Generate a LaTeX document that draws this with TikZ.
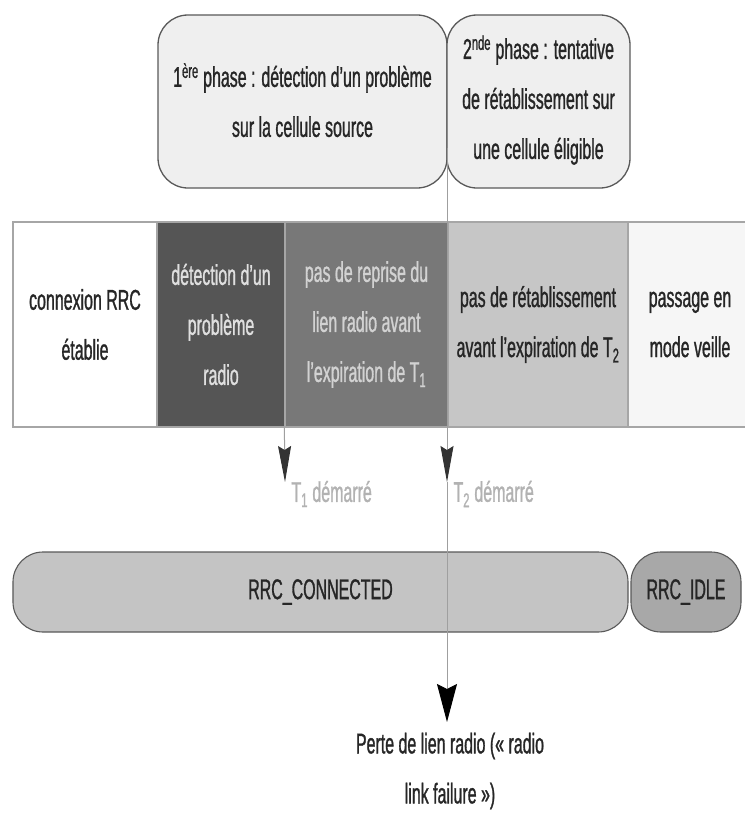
\documentclass[tikz,border=0pt]{standalone}
\usepackage{fontspec}
\setmainfont{Liberation Sans}[FakeStretch=0.56,FakeBold=1]
\usepackage{xcolor}
\usetikzlibrary{arrows.meta,positioning}
\definecolor{phasefill}{HTML}{EFEFEF}
\definecolor{segdark}{HTML}{555555}
\definecolor{segmid}{HTML}{787878}
\definecolor{seglight}{HTML}{C6C6C6}
\definecolor{segpale}{HTML}{F6F6F6}
\definecolor{connfill}{HTML}{C4C4C4}
\definecolor{idlefill}{HTML}{A8A8A8}
\begin{document}
\begin{tikzpicture}[x=1bp,y=-1bp,
	every node/.style={font=\fontsize{28.5bp}{50bp}\selectfont,text=black!85},
	phase/.style={draw=gray!70!black,line width=1.3bp,fill=phasefill,rounded corners=30bp,
		inner sep=0pt,align=center,minimum height=173bp},
	seg/.style={draw=gray!70,line width=1.3bp,inner sep=0pt,align=center,minimum height=205bp},
	state/.style={draw=gray!70!black,line width=1.1bp,rounded corners=30bp,inner sep=0pt,minimum height=80bp},
	timer/.style={color=gray!75,line width=1bp,-{Stealth[length=36bp,width=13bp,inset=4bp,color=gray!40!black]}},
	final/.style={color=gray!75,line width=1bp,-{Stealth[length=38bp,width=20bp,inset=5bp,color=black]}}]
	\useasboundingbox (0,0) rectangle (745,820);
	% phases
	\node[phase,minimum width=289bp] (ph1) at (302.5,101.5) {1\smash{\textsuperscript{ère}} phase : détection d’un problème\\sur la cellule source};
	\node[phase,minimum width=183bp] (ph2) at (538.5,101.5) {2\smash{\textsuperscript{nde}} phase : tentative\\de rétablissement sur\\une cellule éligible};
	% band
	\node[seg,fill=white,minimum width=144bp] (s1) at (85,324.5) {connexion RRC\\établie};
	\node[seg,fill=segdark,text=gray!25,minimum width=128bp] (s2) at (221,324.5) {détection d’un\\problème\\radio};
	\node[seg,fill=segmid,text=gray!35,minimum width=163bp] (s3) at (366.5,324.5) {pas de reprise du\\lien radio avant\\l’expiration de T\textsubscript{1}};
	\node[seg,fill=seglight,minimum width=180bp] (s4) at (538,324.5) {pas de rétablissement\\avant l’expiration de T\textsubscript{2}};
	\node[seg,fill=segpale,minimum width=124bp] (s5) at (690,324.5) {passage en\\mode veille};
	% states
	\node[state,fill=connfill,minimum width=615bp] (conn) at (320.5,592) {RRC\_CONNECTED};
	\node[state,fill=idlefill,minimum width=110bp] (idle) at (686,592) {RRC\_IDLE};
	% timers
	\coordinate (split) at (447,148);
	\coordinate (t1) at (285,482);
	\coordinate (t2) at (447,482);
	\coordinate (lost) at (447,722);
	\draw[timer] (s3.south west) -- (t1);
	\node[anchor=west,text=gray!60] (t1lab) at (288,494) {T\textsubscript{1} démarré};
	\node[anchor=west,text=gray!60] (t2lab) at (450,494) {T\textsubscript{2} démarré};
	\node[align=center] (fail) at (450,771) {Perte de lien radio (« radio\\link failure »)};
	\draw[timer] (split) -- (t2);
	\draw[final] (t2) -- (lost);
\end{tikzpicture}
\end{document}
